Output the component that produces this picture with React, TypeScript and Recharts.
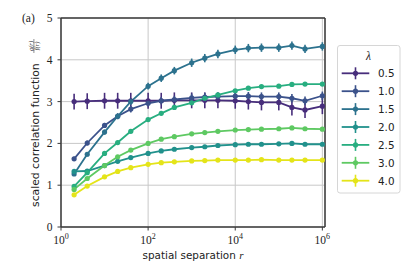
import {
	CartesianGrid,
	ErrorBar,
	Line,
	LineChart,
	ReferenceLine,
	XAxis,
	YAxis,
} from "recharts";

// spatial separation r
const rValues = [
	2, 4, 10, 20, 40, 100, 200, 400, 1000, 2000, 4000, 1e4, 2e4, 4e4, 1e5, 2e5,
	4e5, 1e6,
];

const lambdaLabels = ["0.5", "1.0", "1.5", "2.0", "2.5", "3.0", "4.0"];
const lambdaColors = [
	"#472d7b",
	"#3b528b",
	"#2c728e",
	"#21918c",
	"#28ae80",
	"#5ec962",
	"#e4e419",
];

const g05 = [
	3.0, 3.01, 3.02, 3.02, 3.02, 3.02, 3.02, 3.03, 3.03, 3.03, 3.03, 3.02, 3.0,
	2.98, 2.98, 2.86, 2.8, 2.89,
];
const g10 = [
	1.63, 2.01, 2.43, 2.65, 2.82, 2.96, 3.02, 3.05, 3.09, 3.11, 3.12, 3.13, 3.13,
	3.12, 3.12, 3.08, 3.02, 3.14,
];
const g15 = [
	1.27, 1.74, 2.27, 2.65, 3.0, 3.37, 3.56, 3.74, 3.93, 4.04, 4.14, 4.24, 4.28,
	4.29, 4.29, 4.34, 4.26, 4.32,
];
const g20 = [
	1.33, 1.34, 1.47, 1.57, 1.66, 1.76, 1.82, 1.86, 1.9, 1.92, 1.95, 1.97, 1.98,
	1.98, 1.99, 2.0, 1.98, 1.98,
];
const g25 = [
	0.97, 1.3, 1.76, 2.02, 2.29, 2.57, 2.72, 2.86, 2.97, 3.08, 3.16, 3.26, 3.32,
	3.36, 3.37, 3.41, 3.42, 3.42,
];
const g30 = [
	0.9, 1.16, 1.47, 1.68, 1.84, 2.0, 2.1, 2.16, 2.23, 2.26, 2.29, 2.32, 2.33,
	2.34, 2.35, 2.37, 2.35, 2.34,
];
const g40 = [
	0.77, 0.98, 1.2, 1.33, 1.42, 1.5, 1.54, 1.56, 1.58, 1.59, 1.6, 1.6, 1.6, 1.61,
	1.6, 1.6, 1.6, 1.6,
];

// error bars (only visible for the three smallest lambda)
const err05 = [
	0.19, 0.19, 0.19, 0.19, 0.19, 0.19, 0.19, 0.19, 0.19, 0.19, 0.19, 0.19, 0.19,
	0.19, 0.19, 0.19, 0.19, 0.19,
];
const err10 = [
	0.05, 0.06, 0.06, 0.07, 0.08, 0.08, 0.09, 0.09, 0.1, 0.1, 0.1, 0.1, 0.1, 0.1,
	0.1, 0.1, 0.1, 0.1,
];
const err15 = [
	0.04, 0.05, 0.06, 0.07, 0.08, 0.08, 0.09, 0.09, 0.1, 0.1, 0.1, 0.1, 0.1, 0.1,
	0.1, 0.1, 0.1, 0.1,
];

const yTicks = [0, 1, 2, 3, 4, 5];
const xTicks = [1, 100, 1e4, 1e6];
const xMax = 1.15e6;

const seriesValues = [g05, g10, g15, g20, g25, g30, g40];
const seriesErrors = [err05, err10, err15, null, null, null, null];

const chartData = rValues.map((r, i) => {
	const row: Record<string, number> = { r };
	seriesValues.forEach((vals, k) => {
		row[`s${k}`] = vals[i];
		const e = seriesErrors[k];
		if (e) row[`e${k}`] = e[i];
	});
	return row;
});

const SERIF = "'Liberation Serif', 'DejaVu Serif', serif";
const SANS = "'DejaVu Sans', sans-serif";
const SPINE = "#3a3a3a";

function PowerTick(props: any) {
	const { x, y, payload } = props;
	const exp = Math.round(Math.log10(payload.value));
	return (
		<text
			x={x}
			y={y + 11}
			textAnchor="middle"
			fontFamily={SERIF}
			fontSize={11.5}
			fill="#222"
		>
			<tspan>10</tspan>
			<tspan dy={-4.5} fontSize={8}>
				{exp}
			</tspan>
		</text>
	);
}

function Overlay() {
	const rowTop = 73.3;
	const rowStep = 17.9;
	return (
		<svg
			width={415}
			height={277}
			style={{ position: "absolute", left: 0, top: 0, pointerEvents: "none" }}
		>
			<text x={22} y={22} fontFamily={SERIF} fontSize={11.5} fill="#222">
				(a)
			</text>
			<g transform="translate(38.5, 207) rotate(-90)">
				<text x={0} y={0} fontFamily={SANS} fontSize={10.8} fill="#222">
					scaled correlation function
				</text>
				<g fontFamily={SERIF} fontStyle="italic" fontSize={6.5} fill="#222">
					<text x={161} y={-5.5} textAnchor="middle">
						g(r)
					</text>
					<line
						x1={154}
						x2={168}
						y1={-4.6}
						y2={-4.6}
						stroke="#222"
						strokeWidth={0.5}
					/>
					<text x={161} y={0.5} textAnchor="middle">
						f(r)
					</text>
				</g>
			</g>
			<text
				x={193}
				y={258.5}
				textAnchor="middle"
				fontFamily={SANS}
				fontSize={10.4}
				fill="#222"
			>
				spatial separation{" "}
				<tspan fontFamily={SERIF} fontStyle="italic" fontSize={11}>
					r
				</tspan>
			</text>
			<rect
				x={337.5}
				y={45.5}
				width={62.5}
				height={147.5}
				rx={2.5}
				fill="#fff"
				fillOpacity={0.85}
				stroke="#d6d6d6"
				strokeWidth={1}
			/>
			<text
				x={368.5}
				y={60}
				textAnchor="middle"
				fontFamily={SERIF}
				fontStyle="italic"
				fontSize={11.5}
				fill="#222"
			>
				λ
			</text>
			{lambdaLabels.map((lab, k) => {
				const cy = rowTop + k * rowStep;
				const c = lambdaColors[k];
				return (
					<g key={lab}>
						<line x1={341.7} x2={369.3} y1={cy} y2={cy} stroke={c} strokeWidth={1.8} />
						<line x1={355.5} x2={355.5} y1={cy - 6} y2={cy + 6} stroke={c} strokeWidth={1.6} />
						<circle cx={355.5} cy={cy} r={2.6} fill={c} />
						<text
							x={378}
							y={cy + 3.8}
							fontFamily={SANS}
							fontSize={10.4}
							fill="#222"
						>
							{lab}
						</text>
					</g>
				);
			})}
		</svg>
	);
}

export default function App() {
	return (
		<div style={{ position: "absolute", left: 0, top: 0, width: 415, height: 277, background: "#fff" }}>
			<LineChart
				width={415}
				height={277}
				data={chartData}
				margin={{ top: 18, right: 90, bottom: 20, left: 31 }}
			>
				<CartesianGrid stroke="#c8c8c8" strokeWidth={1} />
				<XAxis
					dataKey="r"
					type="number"
					scale="log"
					domain={[1, xMax]}
					ticks={xTicks}
					allowDataOverflow
					height={30}
					tick={<PowerTick />}
					tickSize={3.5}
					axisLine={{ stroke: SPINE, strokeWidth: 1.5 }}
					tickLine={{ stroke: SPINE }}
				/>
				<YAxis
					type="number"
					domain={[0, 5]}
					ticks={yTicks}
					width={30}
					tickSize={3.5}
					tickMargin={5}
					tick={{ fontFamily: SERIF, fontSize: 11.5, fill: "#222" }}
					axisLine={{ stroke: SPINE, strokeWidth: 1.5 }}
					tickLine={{ stroke: SPINE }}
				/>
				<ReferenceLine y={5} stroke={SPINE} strokeWidth={1.5} />
				<ReferenceLine x={xMax} stroke={SPINE} strokeWidth={1.5} />
				{lambdaLabels.map((lab, k) => (
					<Line
						key={lab}
						name={lab}
						dataKey={`s${k}`}
						type="linear"
						stroke={lambdaColors[k]}
						strokeWidth={1.8}
						dot={{ r: 2.6, fill: lambdaColors[k], stroke: "none" }}
						activeDot={false}
						isAnimationActive={false}
					>
						{seriesErrors[k] && (
							<ErrorBar
								dataKey={`e${k}`}
								direction="y"
								width={0}
								stroke={lambdaColors[k]}
								strokeWidth={1.6}
								isAnimationActive={false}
							/>
						)}
					</Line>
				))}
			</LineChart>
			<Overlay />
		</div>
	);
}
